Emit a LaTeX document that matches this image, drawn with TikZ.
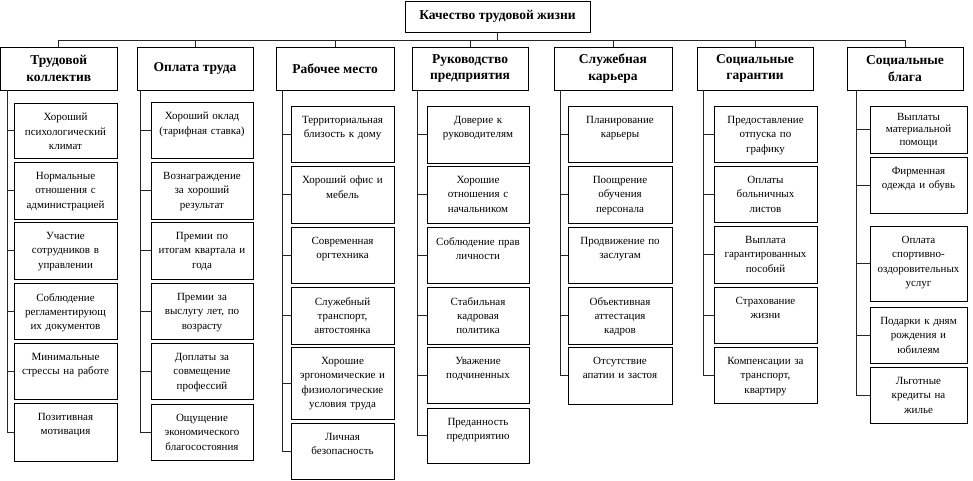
\documentclass[tikz,border=0pt]{standalone}
\usepackage{fontspec}
\setmainfont{Liberation Serif}
\tikzset{
 hdr/.style={draw, line width=0.8pt, inner sep=0pt, font=\fontsize{13.5}{16.5}\selectfont\bfseries, align=center},
 cbox/.style={draw, line width=0.8pt, inner sep=0pt},
 ctext/.style={anchor=north, inner xsep=1pt, inner ysep=10.5pt, text width=100pt, font=\fontsize{11}{14.3}\selectfont, align=center},
 tight/.style={inner ysep=7pt, font=\fontsize{11}{12.8}\selectfont},
 conn/.style={line width=0.7pt, black!85},
}
\newcommand\hb[6]{\node[hdr, minimum width={#4-#2}, minimum height={#5-#3}] (#1) at ({(#2+#4)/2},{(#3+#5)/2}) {#6};}
\newcommand\cb[7][]{\node[cbox, minimum width={#5-#3}, minimum height={#6-#4}] (#2) at ({(#3+#5)/2},{(#4+#6)/2}) {};
 \node[ctext,#1] (#2t) at (#2.north) {#7};}
\begin{document}
\begin{tikzpicture}[x=1pt,y=-1pt]
\useasboundingbox (0,0) rectangle (973,480);
% top
\hb{top}{405}{1}{590}{32}{Качество трудовой жизни}
% headers
\hb{h1}{0.5}{47}{117}{90}{Трудовой\\коллектив}
\hb{h2}{137}{47}{253}{90}{Оплата труда}
\hb{h3}{276}{47}{394}{90}{Рабочее место}
\hb{h4}{412}{47}{528}{90}{Руководство\\предприятия}
\hb{h5}{554}{47}{672}{90}{Служебная\\карьера}
\hb{h6}{697}{47}{813}{90}{Социальные\\гарантии}
\hb{h7}{847}{47}{963}{90}{Социальные\\блага}
% bus
\coordinate (bus) at (0,40);
\draw[conn] (top.south) -- (top.south |- bus);
\draw[conn] (h1.north |- bus) -- (h7.north |- bus);
\foreach \i in {1,...,7}{\draw[conn] (h\i.north) -- (h\i.north |- bus);}
% column 1
\cb{c11}{14}{103}{117}{158}{Хороший\\психологический\\климат}
\cb{c12}{14}{162}{117}{219}{Нормальные\\отношения с\\администрацией}
\cb{c13}{14}{222}{117}{279}{Участие\\сотрудников в\\управлении}
\cb{c14}{14}{283}{117}{339}{Соблюдение\\регламентирующ\\их документов}
\cb{c15}{14}{343}{117}{399}{Минимальные\\стрессы на работе}
\cb{c16}{14}{403}{117}{461}{Позитивная\\мотивация}
% column 2
\cb{c21}{151}{102}{253}{158}{Хороший оклад\\(тарифная ставка)}
\cb{c22}{151}{162}{253}{219}{Вознаграждение\\за хороший\\результат}
\cb{c23}{151}{222}{253}{279}{Премии по\\итогам квартала и\\года}
\cb{c24}{151}{283}{253}{339}{Премии за\\выслугу лет, по\\возрасту}
\cb{c25}{151}{343}{253}{399}{Доплаты за\\совмещение\\профессий}
\cb{c26}{151}{404}{253}{460}{Ощущение\\экономического\\благосостояния}
% column 3
\cb{c31}{291}{106}{394}{162}{Территориальная\\близость к дому}
\cb{c32}{291}{166}{394}{223}{Хороший офис и\\мебель}
\cb{c33}{291}{227}{394}{283}{Современная\\оргтехника}
\cb{c34}{291}{287}{394}{344}{Служебный\\транспорт,\\автостоянка}
\cb{c35}{291}{347}{394}{419}{Хорошие\\эргономические и\\физиологические\\условия труда}
\cb{c36}{291}{423}{394}{479}{Личная\\безопасность}
% column 4
\cb{c41}{427}{106}{529}{163}{Доверие к\\руководителям}
\cb{c42}{427}{166}{529}{223}{Хорошие\\отношения с\\начальником}
\cb{c43}{427}{227}{529}{283}{Соблюдение прав\\личности}
\cb{c44}{427}{287}{529}{344}{Стабильная\\кадровая\\политика}
\cb{c45}{427}{347}{529}{403}{Уважение\\подчиненных}
\cb{c46}{427}{408}{529}{463}{Преданность\\предприятию}
% column 5
\cb{c51}{568}{106}{672}{162}{Планирование\\карьеры}
\cb{c52}{568}{166}{672}{223}{Поощрение\\обучения\\персонала}
\cb{c53}{568}{227}{672}{283}{Продвижение по\\заслугам}
\cb{c54}{568}{287}{672}{344}{Объективная\\аттестация\\кадров}
\cb{c55}{568}{347}{672}{404}{Отсутствие\\апатии и застоя}
% column 6
\cb{c61}{714}{106}{817}{162}{Предоставление\\отпуска по\\графику}
\cb{c62}{714}{166}{817}{222}{Оплаты\\больничных\\листов}
\cb{c63}{714}{226}{817}{283}{Выплата\\гарантированных\\пособий}
\cb{c64}{714}{287}{817}{343}{Страхование\\жизни}
\cb{c65}{714}{347}{817}{403}{Компенсации за\\транспорт,\\квартиру}
% column 7
\cb[tight]{c71}{870}{106}{967}{153}{Выплаты\\материальной\\помощи}
\cb{c72}{870}{157}{967}{213}{Фирменная\\одежда и обувь}
\cb{c73}{870}{226}{967}{301}{Оплата\\спортивно-\\оздоровительных\\услуг}
\cb{c74}{870}{307}{967}{363}{Подарки к дням\\рождения и\\юбилеям}
\cb{c75}{870}{367}{967}{423}{Льготные\\кредиты на\\жилье}
% spines
\coordinate (s1) at (7,90);
\coordinate (s2) at (140,90);
\coordinate (s3) at (282,90);
\coordinate (s4) at (417,90);
\coordinate (s5) at (560,90);
\coordinate (s6) at (703,90);
\coordinate (s7) at (856,90);
\foreach \c/\n in {1/6,2/6,3/6,4/6,5/5,6/5,7/5}{
  \draw[conn] (s\c) |- (c\c\n.west);
  \foreach \k in {1,...,\n}{\draw[conn] (c\c\k.west) -- (c\c\k.west -| s\c);}
}
\end{tikzpicture}
\end{document}
